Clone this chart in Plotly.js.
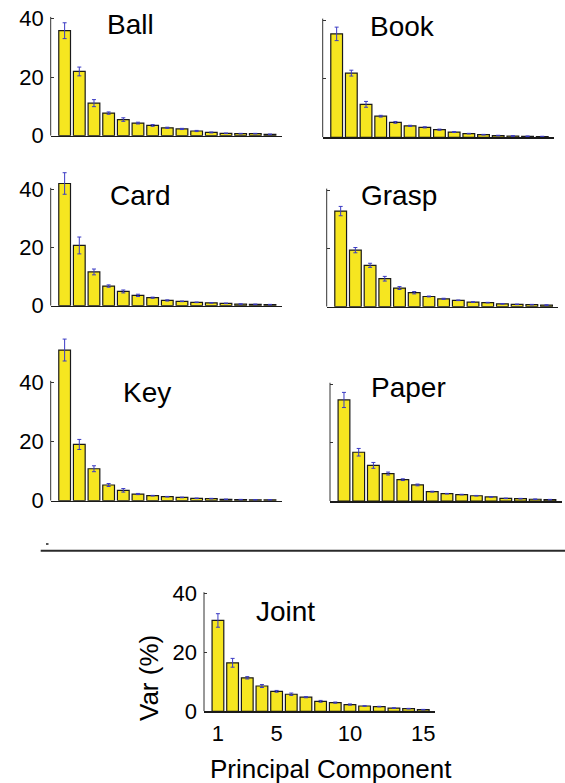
<!DOCTYPE html>
<html>
<head>
<meta charset="utf-8">
<script src="https://cdn.plot.ly/plotly-3.0.1.min.js"></script>
<style>
  html, body { margin: 0; padding: 0; background: #fff; }
  #chart { width: 565px; height: 783px; }
</style>
</head>
<body>
<div id="chart"></div>
<script>
// ---------------- DATA ----------------
const components = [1, 2, 3, 4, 5, 6, 7, 8, 9, 10, 11, 12, 13, 14, 15];
const panelNames = ['Ball', 'Book', 'Card', 'Grasp', 'Key', 'Paper', 'Joint'];

const ballVar  = [35.8, 21.9, 11.1, 7.7, 5.5, 4.3, 3.5, 2.7, 2.3, 1.6, 1.1, 0.8, 0.7, 0.7, 0.45];
const ballErr  = [2.7, 1.5, 1.2, 0.4, 0.6, 0.3, 0.3, 0.2, 0.2, 0.2, 0.15, 0.1, 0.1, 0.1, 0.1];
const bookVar  = [35.3, 21.9, 11.25, 7.2, 5.1, 3.9, 3.4, 2.6, 1.8, 1.25, 0.9, 0.6, 0.45, 0.35, 0.25];
const bookErr  = [2.3, 1.0, 1.0, 0.3, 0.3, 0.2, 0.2, 0.2, 0.15, 0.1, 0.1, 0.1, 0.1, 0.1, 0.1];
const cardVar  = [42.0, 20.7, 11.6, 6.75, 4.9, 3.55, 2.75, 1.8, 1.5, 1.15, 1.0, 0.8, 0.55, 0.45, 0.35];
const cardErr  = [3.7, 2.9, 1.0, 0.4, 0.5, 0.4, 0.2, 0.2, 0.1, 0.1, 0.1, 0.1, 0.1, 0.1, 0.1];
const graspVar = [32.8, 19.4, 14.2, 9.6, 6.4, 4.8, 3.5, 2.7, 2.2, 1.6, 1.4, 1.0, 0.8, 0.7, 0.55];
const graspErr = [1.6, 0.9, 0.7, 0.8, 0.5, 0.4, 0.15, 0.2, 0.1, 0.1, 0.1, 0.1, 0.1, 0.1, 0.1];
const keyVar   = [50.9, 19.0, 10.8, 5.3, 3.5, 2.25, 1.7, 1.35, 1.1, 0.8, 0.7, 0.45, 0.35, 0.3, 0.3];
const keyErr   = [3.7, 1.7, 1.0, 0.5, 0.6, 0.2, 0.1, 0.1, 0.1, 0.1, 0.1, 0.1, 0.1, 0.1, 0.1];
const paperVar = [34.6, 16.7, 12.2, 9.4, 7.3, 5.5, 3.2, 2.5, 2.2, 1.8, 1.4, 0.9, 0.8, 0.6, 0.45];
const paperErr = [2.6, 1.3, 1.0, 0.5, 0.3, 0.3, 0.15, 0.1, 0.1, 0.1, 0.1, 0.1, 0.1, 0.1, 0.1];
const jointVar = [30.9, 16.5, 11.4, 8.6, 6.8, 5.8, 4.8, 3.4, 2.95, 2.3, 1.8, 1.6, 1.1, 0.9, 0.55];
const jointErr = [2.3, 1.5, 0.4, 0.5, 0.3, 0.4, 0.2, 0.3, 0.2, 0.2, 0.1, 0.1, 0.1, 0.1, 0.1];

const yTickVals = [0, 20, 40];
const xTickVals = [1, 5, 10, 15];
const xAxisTitle = 'Principal Component';
const yAxisTitle = 'Var (%)';

const seriesVar = [ballVar, bookVar, cardVar, graspVar, keyVar, paperVar, jointVar];
const seriesErr = [ballErr, bookErr, cardErr, graspErr, keyErr, paperErr, jointErr];

// ---------------- LAYOUT (pixel geometry, styles) ----------------
const W = 565, H = 783;
const FONT = 'Liberation Sans, Arial, Helvetica, sans-serif';
const TICK_SIZE = 22, TITLE_SIZE = 28, AXTITLE_SIZE = 26;
// L,R: x-axis px extent; B: baseline px; s: px per unit; top: top px of plot area
// tx,ty: title position in data units; yLabels: show y tick labels
const geom = [
  {L: 50.7,  R: 281.7, B: 135.7, s: 2.933, top: 0,   tx: 5.51, ty: 38.0, yLabels: true},
  {L: 322.7, R: 554.0, B: 137.3, s: 2.93,  top: 0,   tx: 5.49, ty: 37.8, yLabels: false},
  {L: 50.7,  R: 281.7, B: 305.7, s: 2.91,  top: 150, tx: 6.20, ty: 37.7, yLabels: true},
  {L: 326.7, R: 558.3, B: 306.7, s: 2.915, top: 150, tx: 4.98, ty: 38.0, yLabels: false},
  {L: 50.7,  R: 281.7, B: 500.7, s: 2.96,  top: 320, tx: 6.59, ty: 36.5, yLabels: true},
  {L: 330.0, R: 561.7, B: 501.0, s: 2.92,  top: 320, tx: 5.39, ty: 38.8, yLabels: false},
  {L: 204.0, R: 435.0, B: 711.3, s: 2.94,  top: 570, tx: 5.63, ty: 33.9, yLabels: true}
];
const xRange = [0.05, 15.8];

const traces = [];
const layout = {
  width: W, height: H,
  margin: {l: 0, r: 0, t: 0, b: 0, pad: 0},
  paper_bgcolor: '#fff', plot_bgcolor: 'rgba(0,0,0,0)',
  showlegend: false,
  font: {family: FONT, color: '#000'},
  bargap: 0.2,
  annotations: [],
  shapes: []
};

geom.forEach((g, i) => {
  const n = i + 1;
  const xa = n === 1 ? 'x' : 'x' + n;
  const ya = n === 1 ? 'y' : 'y' + n;
  const xkey = n === 1 ? 'xaxis' : 'xaxis' + n;
  const ykey = n === 1 ? 'yaxis' : 'yaxis' + n;
  const isJoint = panelNames[i] === 'Joint';

  traces.push({
    type: 'bar',
    x: components,
    y: seriesVar[i],
    xaxis: xa, yaxis: ya,
    width: 0.8,
    marker: {color: '#f6e620', line: {color: '#1a1a1a', width: 1.2}},
    error_y: {type: 'data', array: seriesErr[i], visible: true, color: '#3b3bc4', thickness: 1, width: 2},
    hoverinfo: 'skip'
  });

  layout[xkey] = {
    domain: [g.L / W, g.R / W],
    anchor: ya,
    range: xRange,
    showgrid: false, zeroline: false,
    showline: true, linecolor: '#1a1a1a', linewidth: 1.5,
    ticks: '',
    showticklabels: isJoint,
    tickvals: xTickVals,
    tickfont: {size: TICK_SIZE, family: FONT, color: '#000'},
    ticklabelstandoff: 2,
    fixedrange: true
  };
  const yTop = (g.B - g.top) / g.s;
  layout[ykey] = {
    domain: [1 - g.B / H, 1 - g.top / H],
    anchor: xa,
    range: [0, yTop],
    showgrid: false, zeroline: false,
    showline: false,
    ticks: 'inside', ticklen: 3, tickwidth: 1, tickcolor: '#333',
    tickvals: yTickVals,
    showticklabels: g.yLabels,
    tickfont: {size: TICK_SIZE, family: FONT, color: '#000'},
    ticklabelstandoff: 6,
    fixedrange: true
  };

  // y-axis line spanning 0..40 only (bars may rise above it)
  layout.shapes.push({
    type: 'line', xref: xa + ' domain', yref: ya,
    x0: 0, x1: 0, y0: 0, y1: 40.5,
    line: {color: '#333', width: 1}
  });

  // panel title
  layout.annotations.push({
    text: panelNames[i], xref: xa, yref: ya, x: g.tx, y: g.ty,
    xanchor: 'center', yanchor: 'middle', showarrow: false,
    font: {size: TITLE_SIZE, family: FONT, color: '#000'}
  });
});

// axis titles for the Joint panel
layout.annotations.push({
  text: xAxisTitle, xref: 'paper', yref: 'paper',
  x: 331 / W, y: 1 - 769 / H, xanchor: 'center', yanchor: 'middle',
  showarrow: false, font: {size: AXTITLE_SIZE, family: FONT, color: '#000'}
});
layout.annotations.push({
  text: yAxisTitle, xref: 'paper', yref: 'paper',
  x: 149 / W, y: 1 - 678 / H, xanchor: 'center', yanchor: 'middle',
  textangle: -90, showarrow: false, font: {size: AXTITLE_SIZE, family: FONT, color: '#000'}
});

// separator line and small speck
layout.shapes.push({
  type: 'line', xref: 'paper', yref: 'paper',
  x0: 40.7 / W, x1: 1, y0: 1 - 550.7 / H, y1: 1 - 550.7 / H,
  line: {color: '#2a2a2a', width: 2}
});
layout.shapes.push({
  type: 'rect', xref: 'paper', yref: 'paper',
  x0: 46 / W, x1: 48.5 / W, y0: 1 - 545 / H, y1: 1 - 543 / H,
  line: {width: 0}, fillcolor: '#555'
});

Plotly.newPlot('chart', traces, layout, {displayModeBar: false, staticPlot: true});
</script>
</body>
</html>
